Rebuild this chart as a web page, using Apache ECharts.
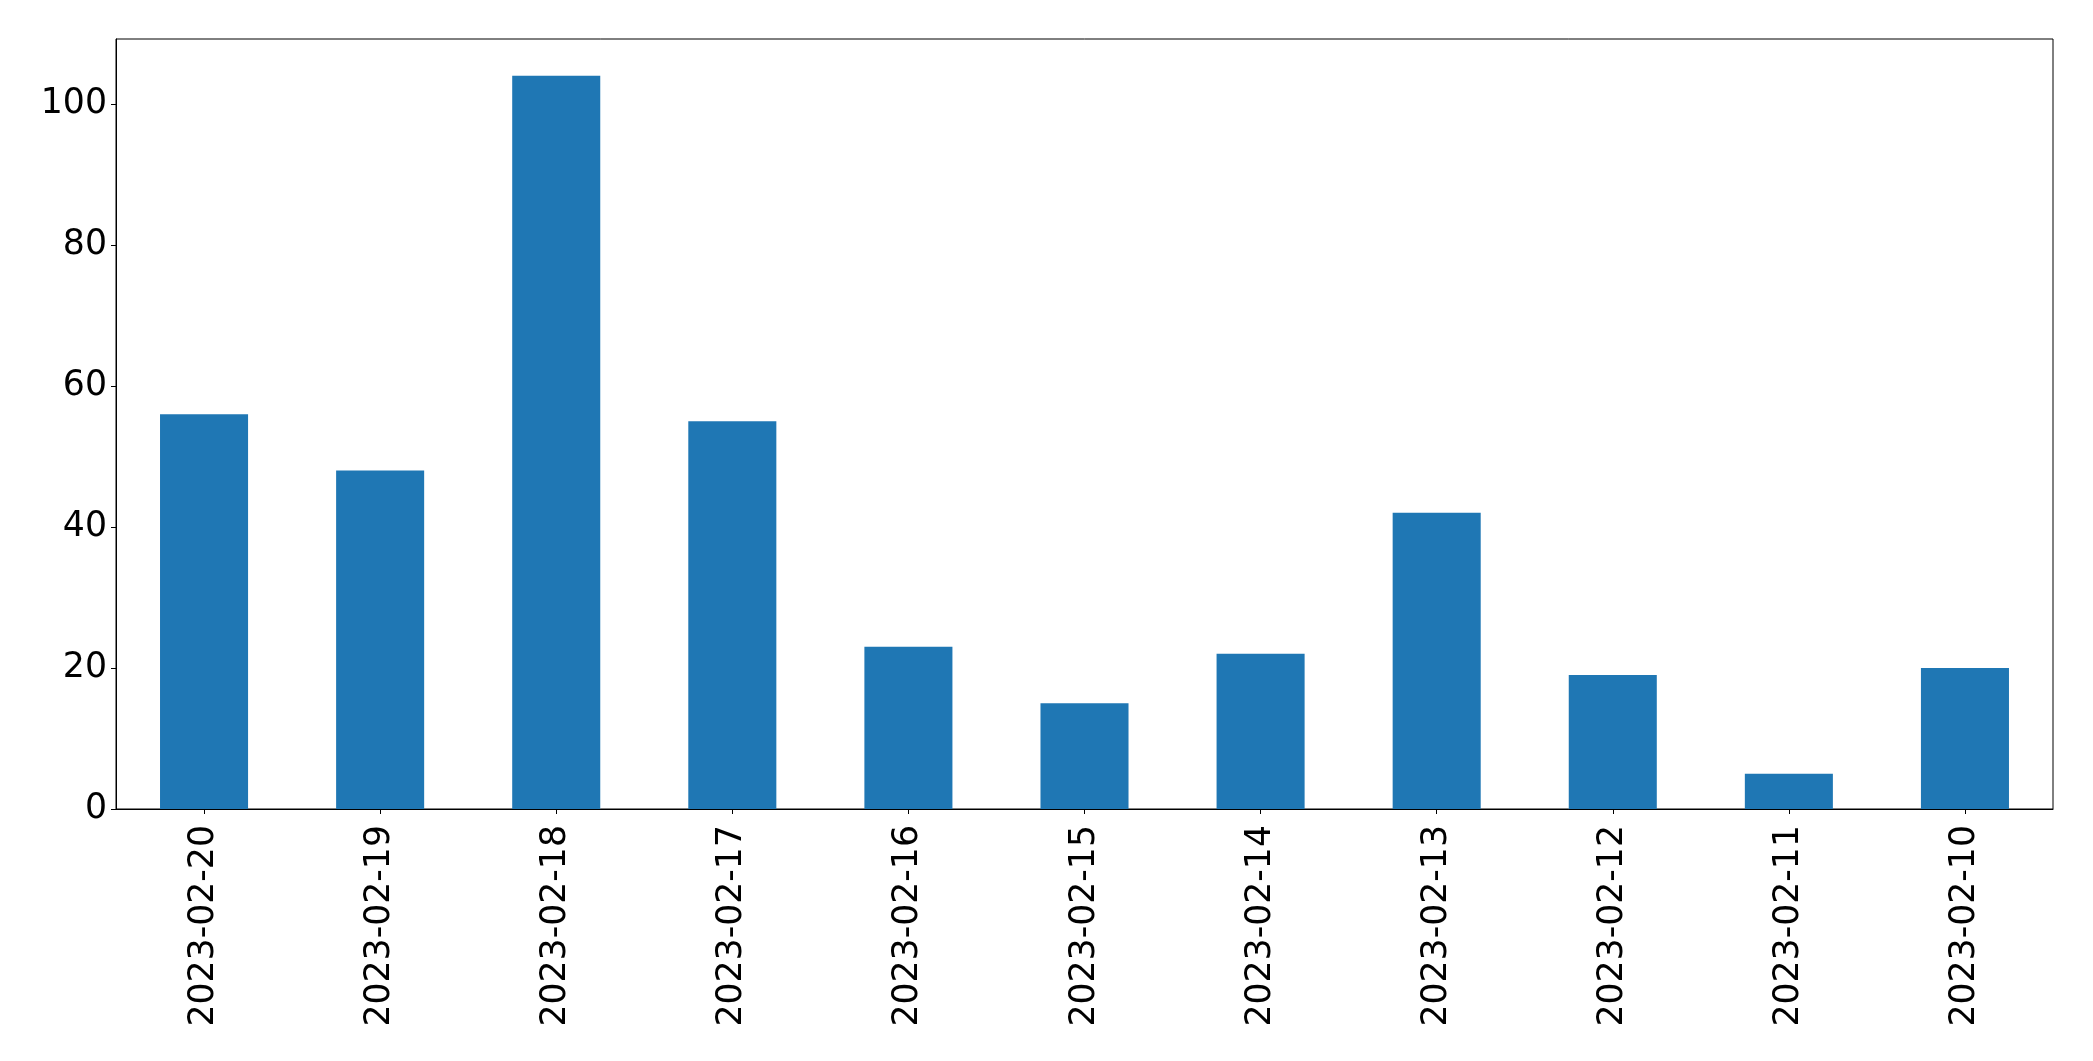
<!DOCTYPE html>
<html>
<head>
<meta charset="utf-8">
<script src="https://cdn.jsdelivr.net/npm/echarts@6/dist/echarts.min.js"></script>
<style>
html,body{margin:0;padding:0;background:#fff;}
#chart{width:2093px;height:1061px;}
</style>
</head>
<body>
<div id="chart"></div>
<script>
const categories = ["2023-02-20","2023-02-19","2023-02-18","2023-02-17","2023-02-16","2023-02-15","2023-02-14","2023-02-13","2023-02-12","2023-02-11","2023-02-10"];
const values = [56, 48, 104, 55, 23, 15, 22, 42, 19, 5, 20];
const yTicks = [0, 20, 40, 60, 80, 100];

const chart = echarts.init(document.getElementById('chart'), null, {renderer: 'canvas'});
const font = 'DejaVu Sans';
chart.setOption({
  animation: false,
  backgroundColor: '#ffffff',
  grid: {left: 116, right: 40, top: 39, bottom: 252, show: true, borderColor: '#000', borderWidth: 1, containLabel: false},
  xAxis: {
    type: 'category',
    data: categories,
    boundaryGap: true,
    axisLine: {show: true, lineStyle: {color: '#000', width: 1}},
    axisTick: {show: true, alignWithLabel: true, length: 5, lineStyle: {color: '#000', width: 1}},
    axisLabel: {rotate: 90, color: '#000', fontFamily: font, fontSize: 34.7, margin: 16, interval: 0, padding: [6, 0, 0, 0]},
    splitLine: {show: false}
  },
  yAxis: {
    type: 'value',
    min: 0,
    max: 109.2,
    interval: 20,
    axisLine: {show: true, lineStyle: {color: '#000', width: 1}},
    axisTick: {show: true, length: 5, lineStyle: {color: '#000', width: 1}, customValues: yTicks},
    axisLabel: {color: '#000', fontFamily: font, fontSize: 34.7, margin: 9, padding: [10, 0, 0, 0], customValues: yTicks,
      formatter: v => (yTicks.indexOf(v) >= 0 ? String(v) : '')},
    splitLine: {show: false}
  },
  series: [{
    type: 'bar',
    data: values,
    barWidth: '50%',
    itemStyle: {color: '#1f77b4'}
  }]
});
</script>
</body>
</html>
